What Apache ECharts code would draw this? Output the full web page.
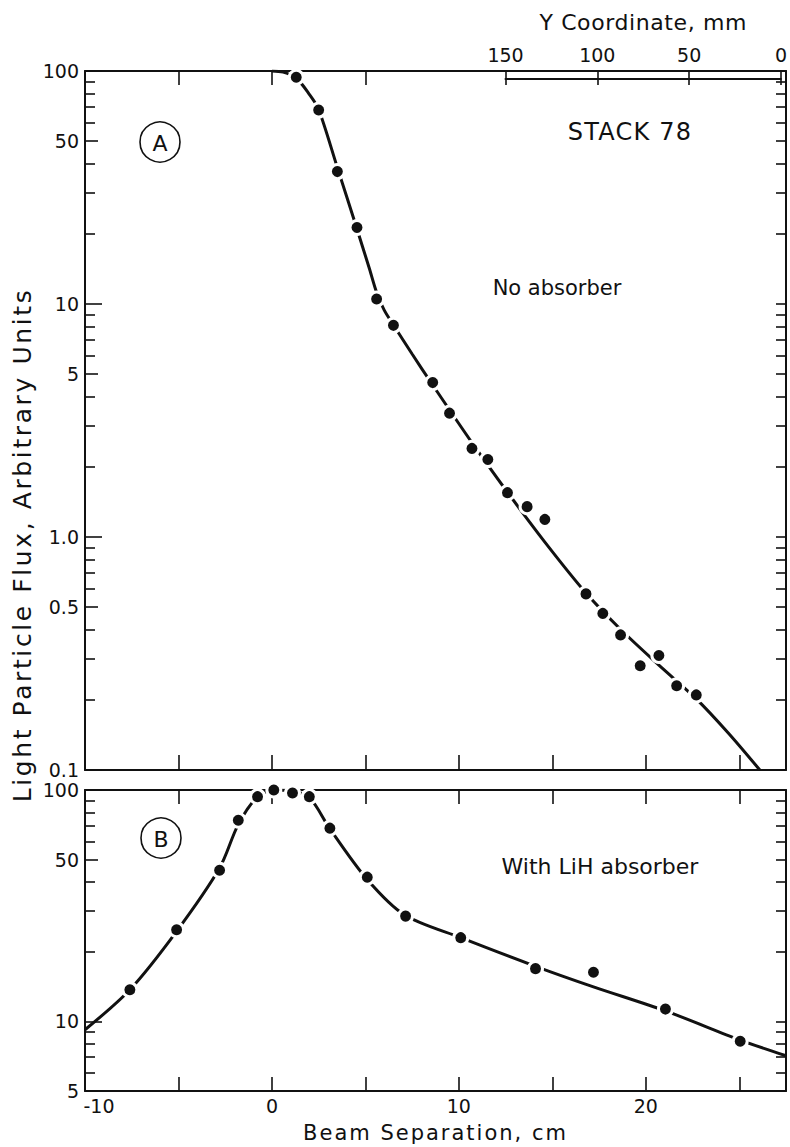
<!DOCTYPE html>
<html><head><meta charset="utf-8">
<script src="https://cdn.jsdelivr.net/npm/echarts@6/dist/echarts.min.js"></script>
<style>html,body{margin:0;padding:0;background:#fff}#c{width:790px;height:1147px}</style>
</head><body><div id="c"></div>
<script>
// ---------------- data ----------------
// Panel A (no absorber): measured points
const pointsAX = [1.3, 2.5, 3.5, 4.55, 5.6, 6.5, 8.6, 9.5, 10.7, 11.55, 12.6, 13.65, 14.6, 16.8, 17.7, 18.65, 19.7, 20.7, 21.65, 22.7];
const pointsAY = [94, 68, 37, 21.3, 10.5, 8.1, 4.6, 3.4, 2.4, 2.15, 1.55, 1.35, 1.19, 0.57, 0.47, 0.38, 0.28, 0.31, 0.23, 0.21];
// Panel A fitted curve
const curveAX = [0, 0.6, 1.3, 2.0, 2.5, 3.5, 4.5, 5.2, 5.6, 6.0, 6.5, 7.5, 8.6, 10.7, 12.6, 14.6, 16.8, 18.7, 20.7, 22.7, 24.4, 26.1];
const curveAY = [100, 98.9, 93.3, 79.4, 68.4, 38.5, 21.6, 14.3, 11.2, 9.44, 8.13, 6.10, 4.49, 2.54, 1.556, 0.951, 0.575, 0.398, 0.282, 0.202, 0.1445, 0.1];
// Panel B (with LiH absorber): measured points
const pointsBX = [-7.6, -5.1, -2.8, -1.8, -0.77, 0.1, 1.1, 2.0, 3.1, 5.1, 7.15, 10.1, 14.1, 17.2, 21.05, 25.05];
const pointsBY = [13.7, 24.9, 45, 74, 93.6, 100, 97, 93.6, 68.4, 42, 28.5, 23, 16.9, 16.3, 11.3, 8.2];
// Panel B fitted curve
const curveBX = [-10, -7.6, -5.1, -2.8, -1.8, -0.8, 0.1, 1.1, 2.0, 3.1, 5.1, 7.1, 10.1, 14.1, 17.2, 21.05, 25.05, 27.5];
const curveBY = [9.2, 13.7, 24.5, 46, 71, 93, 100, 99, 93, 68, 41, 28.8, 23, 17.3, 14.1, 11.1, 8.3, 7.1];

// axis ticks / labels
const xRange = [-10, 27.5];
const xLabelValues = [-10, 0, 10, 20];
const xTickValues = [-5, 0, 5, 10, 15, 20, 25];
const xTopTickValuesA = [-5, 0, 5];
const yCoordRange = [0, 150];          // mm, top axis (reversed)
const yLabelValuesA = [0.1, 0.5, 1, 5, 10, 50, 100];
const yLabelTextsA = ['0.1', '0.5', '1.0', '5', '10', '50', '100'];
const yLabelValuesB = [5, 10, 50, 100];
const yLabelTextsB = ['5', '10', '50', '100'];
const decadeTicksA = [0.1, 1, 10, 100];
const halfTicksA = [0.5, 5, 50];
const minorTicksA = [0.2, 0.3, 0.4, 0.6, 0.7, 0.8, 0.9, 2, 3, 4, 6, 7, 8, 9, 20, 30, 40, 60, 70, 80, 90];
const decadeTicksB = [10, 100];
const halfTicksB = [5, 50];
const minorTicksB = [6, 7, 8, 9, 20, 30, 40, 60, 70, 80, 90];

// ---------------- chart ----------------
const L = v => Math.log10(v);
const pairs = (xs, ys) => xs.map((x, i) => [x, L(ys[i])]);
const FONT = 'DejaVu Sans';
const INK = '#111';

function labelFormatter(vals, texts) {
  return function (v) {
    let best = 0, d = Infinity;
    vals.forEach((t, i) => { const dd = Math.abs(L(t) - v); if (dd < d) { d = dd; best = i; } });
    return texts[best];
  };
}

function yAxesFor(grid, yMin, yMax, labVals, labTexts, dec, half, minor) {
  const base = { type: 'value', gridIndex: grid, min: L(yMin), max: L(yMax), splitLine: { show: false } };
  return [
    Object.assign({}, base, {
      position: 'left',
      axisLine: { show: true, onZero: false, lineStyle: { color: INK, width: 2 } },
      axisTick: { show: true, inside: true, length: 17, lineStyle: { color: INK, width: 1.6 }, customValues: dec.map(L) },
      axisLabel: { show: true, customValues: labVals.map(L), formatter: labelFormatter(labVals, labTexts),
                   margin: 6, fontFamily: FONT, fontSize: 19, color: INK }
    }),
    Object.assign({}, base, {
      position: 'left',
      axisLine: { show: false, onZero: false },
      axisTick: { show: true, inside: true, length: 13, lineStyle: { color: INK, width: 1.6 }, customValues: half.map(L) },
      axisLabel: { show: false }
    }),
    Object.assign({}, base, {
      position: 'left',
      axisLine: { show: false, onZero: false },
      axisTick: { show: true, inside: true, length: 10, lineStyle: { color: INK, width: 1.6 }, customValues: minor.map(L) },
      axisLabel: { show: false }
    }),
    Object.assign({}, base, {
      position: 'right',
      axisLine: { show: true, onZero: false, lineStyle: { color: INK, width: 2 } },
      axisTick: { show: true, inside: true, length: 10, lineStyle: { color: INK, width: 1.6 },
                  customValues: dec.concat(half, minor).map(L) },
      axisLabel: { show: false }
    })
  ];
}

function xAxis(grid, pos, ticks, tickLen, labels, extra) {
  return Object.assign({
    type: 'value', gridIndex: grid, position: pos, min: xRange[0], max: xRange[1],
    splitLine: { show: false },
    axisLine: { show: true, onZero: false, lineStyle: { color: INK, width: 2 } },
    axisTick: { show: true, inside: true, length: tickLen, lineStyle: { color: INK, width: 1.6 }, customValues: ticks },
    axisLabel: labels ? {
      show: true, customValues: labels, margin: 5, fontFamily: FONT, fontSize: 19, color: INK,
      formatter: v => (v === labels[0] ? '{first|' + v + '}' : String(v)),
      rich: { first: { fontFamily: FONT, fontSize: 19, color: INK, padding: [0, 0, 0, 28] } }
    } : { show: false }
  }, extra || {});
}

const chart = echarts.init(document.getElementById('c'), null, { renderer: 'svg', width: 790, height: 1147 });

const yAxes = []
  .concat(yAxesFor(0, 0.1, 100, yLabelValuesA, yLabelTextsA, decadeTicksA, halfTicksA, minorTicksA))
  .concat(yAxesFor(1, 5, 100, yLabelValuesB, yLabelTextsB, decadeTicksB, halfTicksB, minorTicksB))
  .concat([{ type: 'value', gridIndex: 2, show: false, min: 0, max: 1 }]);

const xAxes = [
  xAxis(0, 'bottom', xTickValues, 15, null),
  xAxis(0, 'top', xTopTickValuesA, 14, null),
  xAxis(1, 'bottom', xTickValues, 14, xLabelValues, {
    name: 'Beam Separation, cm', nameLocation: 'middle', nameGap: 31,
    nameTextStyle: { fontFamily: FONT, fontSize: 21, color: INK }
  }),
  xAxis(1, 'top', xTickValues, 14, null),
  {
    type: 'value', gridIndex: 2, position: 'top', min: yCoordRange[0], max: yCoordRange[1], inverse: true, interval: 50,
    splitLine: { show: false },
    axisLine: { show: true, onZero: false, lineStyle: { color: INK, width: 2 } },
    axisTick: { show: true, inside: true, length: 14, lineStyle: { color: INK, width: 1.6 } },
    axisLabel: { show: true, margin: 7, fontFamily: FONT, fontSize: 19, color: INK, showMinLabel: true, showMaxLabel: true },
    name: 'Y Coordinate, mm', nameLocation: 'middle', nameGap: 38,
    nameTextStyle: { fontFamily: FONT, fontSize: 22, color: INK }
  },
  {
    type: 'value', gridIndex: 2, position: 'bottom', min: yCoordRange[0], max: yCoordRange[1], inverse: true,
    splitLine: { show: false },
    axisLine: { show: true, onZero: false, lineStyle: { color: INK, width: 2 } },
    axisTick: { show: false }, axisLabel: { show: false }
  }
];

const lineStyle = { color: INK, width: 3 };
const dotStyle = { color: INK, opacity: 1, borderColor: '#fff', borderWidth: 3 };

function circled(letter, cx, cy) {
  return {
    type: 'group', children: [
      { type: 'circle', shape: { cx: cx, cy: cy, r: 20 }, style: { fill: 'none', stroke: INK, lineWidth: 1.6 } },
      { type: 'text', x: cx, y: cy + 1, style: { text: letter, font: '22px "DejaVu Sans"', fill: INK, align: 'center', verticalAlign: 'middle' } }
    ]
  };
}

chart.setOption({
  animation: false,
  backgroundColor: '#fff',
  grid: [
    { left: 85, top: 71, width: 701, height: 699 },
    { left: 85, top: 790, width: 701, height: 301 },
    { left: 505.5, top: 71, width: 280.5, height: 8 }
  ],
  xAxis: xAxes,
  yAxis: yAxes,
  series: [
    { type: 'line', name: 'Fit A', xAxisIndex: 0, yAxisIndex: 0, data: pairs(curveAX, curveAY),
      smooth: 0.3, showSymbol: false, lineStyle: lineStyle, z: 2 },
    { type: 'scatter', name: 'No absorber', xAxisIndex: 0, yAxisIndex: 0, data: pairs(pointsAX, pointsAY),
      symbol: 'circle', symbolSize: 14, itemStyle: dotStyle, z: 3 },
    { type: 'line', name: 'Fit B', xAxisIndex: 2, yAxisIndex: 4, data: pairs(curveBX, curveBY),
      smooth: 0.3, showSymbol: false, lineStyle: lineStyle, z: 2 },
    { type: 'scatter', name: 'With LiH absorber', xAxisIndex: 2, yAxisIndex: 4, data: pairs(pointsBX, pointsBY),
      symbol: 'circle', symbolSize: 14, itemStyle: dotStyle, z: 3 }
  ],
  graphic: [
    circled('A', 160, 142),
    circled('B', 161, 838),
    { type: 'text', x: 630, y: 132, style: { text: 'STACK 78', font: '24px "DejaVu Sans"', fill: INK, align: 'center', verticalAlign: 'middle' } },
    { type: 'text', x: 557, y: 288, style: { text: 'No absorber', font: '21px "DejaVu Sans"', fill: INK, align: 'center', verticalAlign: 'middle' } },
    { type: 'text', x: 600, y: 866, style: { text: 'With LiH absorber', font: '22px "DejaVu Sans"', fill: INK, align: 'center', verticalAlign: 'middle' } },
    { type: 'text', x: 22, y: 545, rotation: Math.PI / 2,
      style: { text: 'Light Particle Flux, Arbitrary Units', font: '25px "DejaVu Sans"', fill: INK, align: 'center', verticalAlign: 'middle' } }
  ]
});

// widen the lettering of the titles a little, like the drafted original
const spacing = { 'Light Particle Flux, Arbitrary Units': 2.6, 'Beam Separation, cm': 2, 'STACK 78': 1.2, 'Y Coordinate, mm': 0.6 };
document.querySelectorAll('#c svg text').forEach(t => {
  const s = spacing[t.textContent];
  if (s) t.style.letterSpacing = s + 'px';
});
</script>
</body></html>
